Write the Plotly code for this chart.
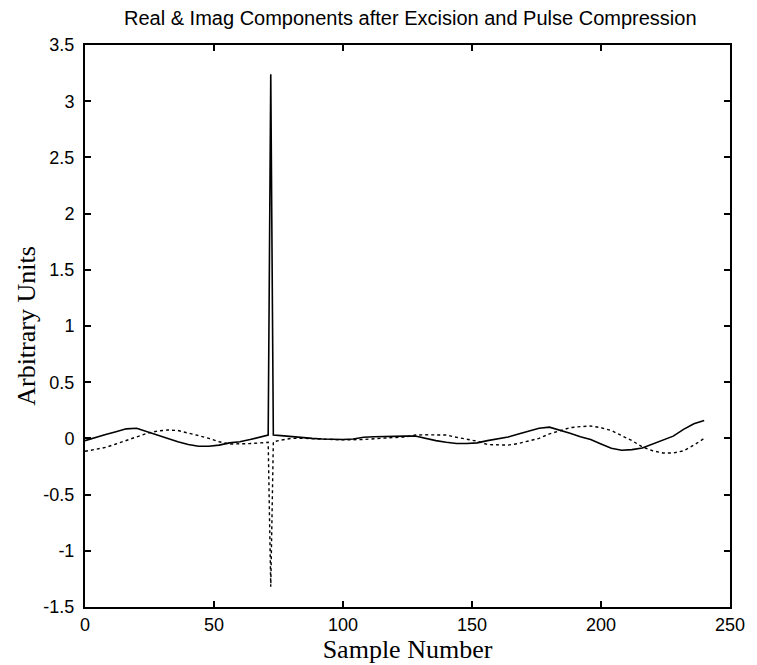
import plotly.graph_objects as go

samples = [0, 4, 8, 12, 16, 20, 24, 28, 32, 36, 40, 44, 48, 52, 56, 60, 64, 68, 70, 71, 72, 73,
           76, 80, 84, 88, 92, 96, 100, 104, 108, 112, 116, 120, 124, 128, 132, 136, 140, 144,
           148, 152, 156, 160, 164, 168, 172, 176, 180, 184, 188, 192, 196, 200, 204, 208, 212,
           216, 220, 224, 228, 232, 236, 240]

real_part = [-0.02, 0.01, 0.035, 0.06, 0.085, 0.09, 0.06, 0.025, -0.005, -0.03, -0.055, -0.07, -0.07,
             -0.06, -0.04, -0.03, -0.01, 0.01, 0.02, 0.03, 3.24, 0.03,
             0.025, 0.015, 0.01, 0.0, -0.005, -0.01, -0.01, -0.005, 0.01, 0.015, 0.015, 0.02,
             0.02, 0.022, 0.0, -0.02, -0.035, -0.045, -0.045, -0.04, -0.02, -0.005, 0.013,
             0.04, 0.065, 0.09, 0.10, 0.075, 0.045, 0.015, -0.01, -0.05, -0.088, -0.105, -0.10,
             -0.085, -0.05, -0.02, 0.02, 0.08, 0.13, 0.16]

imag_part = [-0.115, -0.10, -0.08, -0.05, -0.02, 0.015, 0.045, 0.065, 0.075, 0.07, 0.05, 0.025,
             0.0, -0.03, -0.05, -0.05, -0.046, -0.04, -0.037, -0.035, -1.32, -0.03,
             -0.015, 0.0, 0.002, 0.0, -0.005, -0.01, -0.013, -0.013, -0.01, -0.003, 0.0, 0.008,
             0.013, 0.03, 0.032, 0.032, 0.03, 0.01, -0.01, -0.025, -0.055, -0.06, -0.06, -0.045,
             -0.02, 0.0, 0.04, 0.07, 0.095, 0.105, 0.11, 0.095, 0.07, 0.025, -0.02, -0.075,
             -0.11, -0.13, -0.13, -0.11, -0.06, 0.0]

x_ticks = [0, 50, 100, 150, 200, 250]
y_ticks = [-1.5, -1, -0.5, 0, 0.5, 1, 1.5, 2, 2.5, 3, 3.5]
y_tick_text = ["-1.5", "-1", "-0.5", "0", "0.5", "1", "1.5", "2", "2.5", "3", "3.5"]

sans = "Liberation Sans, Arial, sans-serif"
serif = "Liberation Serif, Times New Roman, serif"

fig = go.Figure()
fig.add_trace(go.Scatter(x=samples, y=real_part, mode="lines",
                         line=dict(color="black", width=1.6), showlegend=False))
fig.add_trace(go.Scatter(x=samples, y=imag_part, mode="lines",
                         line=dict(color="black", width=1.4, dash="dot"),
                         showlegend=False))

axis_common = dict(showgrid=False, zeroline=False, showline=True, linecolor="black",
                   linewidth=2, mirror="ticks", ticks="inside", ticklen=6, tickwidth=1.5,
                   tickcolor="black", tickfont=dict(family=sans, size=18, color="black"))

fig.update_layout(
    width=757, height=665,
    margin=dict(l=85, r=18, t=45, b=58),
    paper_bgcolor="white", plot_bgcolor="white",
    title=dict(text="Real & Imag Components after Excision and Pulse Compression",
               x=0.542, xanchor="center", y=0.973, yanchor="middle",
               font=dict(family=sans, size=20, color="black")),
    xaxis=dict(range=[0, 250], tickvals=x_ticks, **axis_common,
               title=dict(text="Sample Number", standoff=0,
                          font=dict(family=serif, size=26, color="black"))),
    yaxis=dict(range=[-1.5, 3.5], tickvals=y_ticks, ticktext=y_tick_text, **axis_common,
               ticklabelstandoff=5,
               title=dict(text="Arbitrary Units", standoff=0,
                          font=dict(family=serif, size=26, color="black"))),
)

fig.write_html("out.html")
